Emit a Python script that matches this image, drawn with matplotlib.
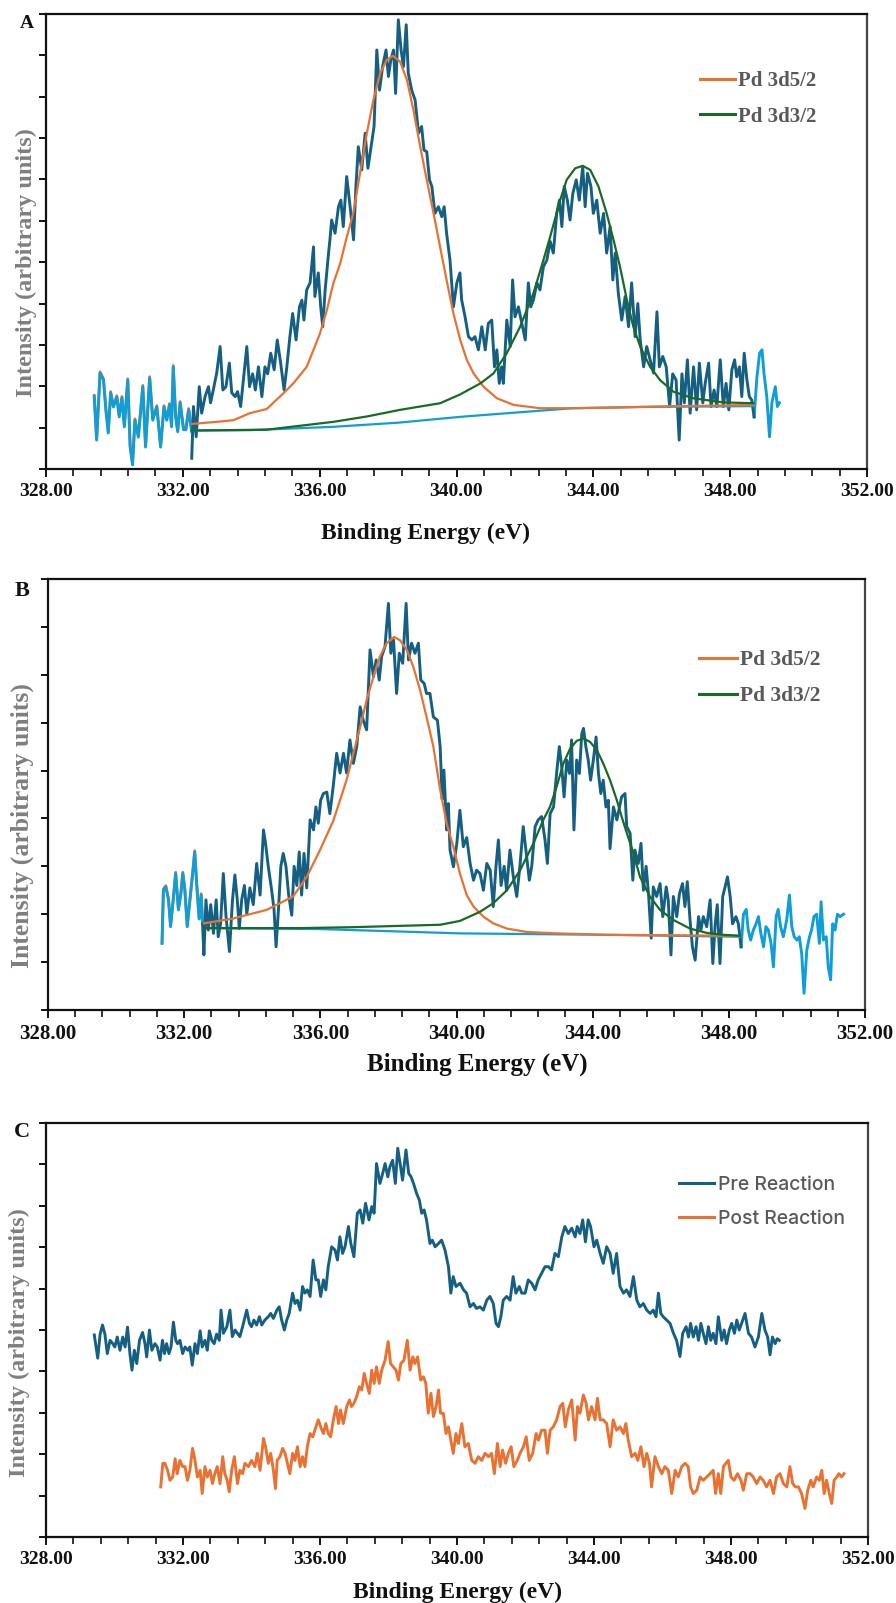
import matplotlib
matplotlib.use("Agg")
import matplotlib.pyplot as plt
from matplotlib.ticker import MultipleLocator, FormatStrFormatter, NullFormatter
from matplotlib.lines import Line2D
import matplotlib.transforms as mtransforms

plt.rcParams['font.family'] = ['Liberation Serif', 'DejaVu Serif']

# ---------------- data: panel A ----------------
A_LEFT_X = [329.41, 329.48, 329.58, 329.68, 329.75, 329.82, 329.89, 329.97, 330.07, 330.14,
            330.22, 330.29, 330.39, 330.46, 330.53, 330.60, 330.70, 330.83, 330.91, 331.03,
            331.12, 331.24, 331.35, 331.45, 331.53, 331.61, 331.67, 331.72, 331.79, 331.85,
            331.92, 332.02, 332.09, 332.17, 332.26]
A_LEFT_Y = [1.75, 0.70, 2.32, 2.15, 1.43, 0.87, 1.84, 1.50, 1.74, 1.26,
            1.72, 1.02, 2.15, 0.53, 0.10, 1.18, 0.77, 1.99, 0.53, 2.20,
            1.18, 1.50, 0.53, 1.50, 1.18, 1.55, 1.02, 2.47, 1.26, 0.90,
            1.60, 0.95, 0.95, 1.43, 0.90]

A_DATA_X = [332.26, 332.31, 332.39, 332.48, 332.55, 332.65, 332.75, 332.81, 332.89, 332.99,
            333.09, 333.17, 333.26, 333.36, 333.43, 333.53, 333.60, 333.69, 333.77, 333.87,
            333.95, 334.04, 334.12, 334.21, 334.31, 334.40, 334.48, 334.57, 334.67, 334.76,
            334.86, 334.96, 335.04, 335.13, 335.21, 335.31, 335.41, 335.48, 335.54, 335.62,
            335.72, 335.82, 335.86, 335.96, 336.03, 336.09, 336.16, 336.26, 336.30, 336.35,
            336.45, 336.55, 336.62, 336.69, 336.79, 336.89, 336.99, 337.06, 337.13, 337.23,
            337.33, 337.41, 337.52, 337.59, 337.67, 337.75, 337.84, 337.94, 338.01, 338.08,
            338.16, 338.22, 338.30, 338.38, 338.45, 338.53, 338.59, 338.69, 338.79, 338.89,
            338.98, 339.05, 339.13, 339.21, 339.28, 339.37, 339.47, 339.57, 339.64, 339.71,
            339.81, 339.91, 340.01, 340.10, 340.15, 340.25, 340.35, 340.45, 340.54, 340.64,
            340.74, 340.84, 340.93, 341.03, 341.11, 341.18, 341.25, 341.32, 341.37, 341.47,
            341.57, 341.64, 341.71, 341.81, 341.91, 342.01, 342.10, 342.17, 342.25, 342.35,
            342.44, 342.54, 342.64, 342.74, 342.83, 342.93, 343.01, 343.08, 343.15, 343.24,
            343.32, 343.40, 343.50, 343.59, 343.69, 343.76, 343.83, 343.93, 344.00, 344.10,
            344.20, 344.30, 344.39, 344.49, 344.57, 344.64, 344.73, 344.83, 344.93, 345.03,
            345.12, 345.22, 345.30, 345.37, 345.47, 345.56, 345.66, 345.76, 345.86, 345.93,
            346.03, 346.13, 346.23, 346.32, 346.42, 346.51, 346.59, 346.66, 346.75, 346.83,
            346.93, 347.02, 347.10, 347.20, 347.27, 347.37, 347.44, 347.53, 347.61, 347.71,
            347.80, 347.88, 347.96, 348.05, 348.13, 348.19, 348.27, 348.34, 348.41, 348.49,
            348.56, 348.63, 348.70]
A_DATA_Y = [0.26, 1.51, 0.78, 1.99, 1.35, 1.75, 1.99, 1.60, 1.91, 2.32,
            2.96, 1.91, 1.99, 2.56, 1.84, 1.75, 1.87, 1.51, 2.15, 2.96,
            1.99, 2.30, 1.91, 2.47, 1.75, 2.47, 2.30, 2.80, 2.40, 3.12,
            2.56, 1.91, 2.47, 3.20, 3.76, 3.12, 3.92, 4.08, 3.60, 4.33,
            4.50, 5.37, 4.17, 4.74, 3.92, 3.44, 4.33, 5.22, 5.54, 6.02,
            5.70, 6.34, 6.50, 5.86, 7.07, 6.34, 5.54, 6.83, 7.79, 7.23,
            8.12, 7.27, 7.88, 8.28, 10.13, 9.16, 9.73, 10.13, 9.49, 9.89,
            10.13, 9.08, 10.86, 10.13, 9.73, 10.74, 9.57, 9.16, 8.92, 8.12,
            8.28, 7.71, 7.67, 6.99, 6.83, 6.18, 6.34, 6.10, 6.34, 5.70,
            5.05, 3.92, 4.50, 4.74, 4.09, 3.68, 3.20, 3.12, 3.20, 2.88,
            3.44, 2.88, 3.52, 3.60, 2.47, 2.88, 2.07, 2.47, 2.07, 3.60,
            2.96, 4.57, 3.68, 3.92, 3.52, 3.12, 4.50, 3.92, 4.09, 4.50,
            4.33, 4.89, 5.05, 5.50, 5.22, 6.18, 6.50, 5.86, 6.83, 6.50,
            6.02, 6.66, 6.99, 6.50, 7.31, 6.34, 7.15, 6.83, 6.18, 6.50,
            5.70, 6.18, 5.22, 5.86, 4.57, 5.22, 4.25, 3.60, 4.17, 3.44,
            4.50, 3.20, 4.00, 3.12, 2.47, 2.96, 2.64, 2.32, 3.80, 2.47,
            2.72, 2.47, 1.51, 2.30, 2.15, 0.70, 2.30, 1.60, 2.64, 1.35,
            2.47, 1.43, 2.56, 1.60, 2.07, 2.56, 1.51, 1.91, 1.51, 2.64,
            1.51, 2.07, 1.43, 2.40, 2.64, 2.23, 2.47, 1.75, 2.80, 2.15,
            1.75, 1.67, 1.26]

A_RIGHT_X = [348.70, 348.78, 348.86, 348.93, 348.99, 349.07, 349.15, 349.22, 349.32, 349.38, 349.44]
A_RIGHT_Y = [1.26, 2.20, 2.80, 2.88, 2.30, 1.75, 0.78, 1.60, 1.99, 1.51, 1.60]

A_D52_X = [332.26, 332.99, 333.48, 333.96, 334.45, 334.94, 335.23, 335.62, 335.82, 336.01,
           336.21, 336.40, 336.60, 336.79, 336.98, 337.18, 337.38, 337.57, 337.77, 337.96,
           338.14, 338.35, 338.55, 338.74, 338.94, 339.13, 339.33, 339.52, 339.71, 339.91,
           340.11, 340.30, 340.50, 340.79, 341.18, 341.67, 342.44, 343.42, 344.39, 345.37,
           346.34, 347.32, 348.68]
A_D52_Y = [1.09, 1.14, 1.18, 1.35, 1.45, 1.83, 2.07, 2.47, 2.88, 3.28,
           3.84, 4.49, 4.97, 5.60, 6.18, 7.15, 8.12, 8.92, 9.57, 9.89,
           9.99, 9.85, 9.41, 8.68, 7.79, 6.99, 6.18, 5.37, 4.57, 3.76,
           3.12, 2.64, 2.31, 1.99, 1.71, 1.55, 1.47, 1.47, 1.48, 1.50,
           1.52, 1.53, 1.55]

A_D32_X = [332.26, 334.45, 336.40, 337.38, 338.35, 339.52, 340.10, 340.70, 341.08, 341.47,
           341.86, 342.25, 342.54, 342.74, 343.03, 343.22, 343.47, 343.69, 343.91, 344.15,
           344.39, 344.59, 344.78, 344.98, 345.17, 345.37, 345.66, 345.95, 346.34, 346.92,
           347.80, 348.68]
A_D32_Y = [0.93, 0.95, 1.14, 1.27, 1.43, 1.59, 1.80, 2.07, 2.31, 2.80,
           3.44, 4.25, 5.05, 5.62, 6.50, 6.99, 7.27, 7.33, 7.23, 6.83,
           6.18, 5.54, 4.89, 4.09, 3.44, 2.96, 2.47, 2.15, 1.87, 1.71,
           1.61, 1.59]

A_BG_X = [332.26, 334.0, 336.4, 338.3, 340.1, 341.5, 343.4, 345.4, 348.68]
A_BG_Y = [0.93, 0.94, 1.02, 1.12, 1.26, 1.35, 1.47, 1.50, 1.52]

# ---------------- data: panel B ----------------
B_LEFT_X = [331.35, 331.39, 331.46, 331.54, 331.60, 331.68, 331.75, 331.83, 331.90, 331.96,
            332.02, 332.09, 332.17, 332.25, 332.31, 332.37, 332.44, 332.50, 332.54]
B_LEFT_Y = [1.39, 2.50, 2.57, 2.30, 1.74, 2.30, 2.85, 2.09, 2.40, 2.85,
            2.50, 1.74, 2.30, 2.85, 3.30, 2.60, 1.90, 2.40, 1.80]

B_DATA_X = [332.54, 332.58, 332.64, 332.71, 332.78, 332.86, 332.94, 333.00, 333.07, 333.15,
            333.23, 333.33, 333.42, 333.49, 333.56, 333.62, 333.69, 333.77, 333.84, 333.93,
            334.03, 334.13, 334.23, 334.33, 334.39, 334.47, 334.57, 334.64, 334.70, 334.77,
            334.84, 334.91, 334.99, 335.07, 335.16, 335.23, 335.31, 335.38, 335.45, 335.52,
            335.60, 335.70, 335.80, 335.87, 335.94, 336.01, 336.09, 336.19, 336.28, 336.38,
            336.48, 336.58, 336.68, 336.77, 336.87, 336.97, 337.07, 337.17, 337.26, 337.36,
            337.46, 337.56, 337.64, 337.73, 337.80, 337.90, 338.00, 338.07, 338.15, 338.24,
            338.32, 338.42, 338.52, 338.59, 338.68, 338.78, 338.88, 338.95, 339.05, 339.12,
            339.22, 339.32, 339.44, 339.52, 339.58, 339.63, 339.71, 339.76, 339.81, 339.91,
            340.01, 340.10, 340.20, 340.30, 340.40, 340.50, 340.59, 340.69, 340.79, 340.89,
            340.99, 341.08, 341.16, 341.23, 341.31, 341.40, 341.47, 341.57, 341.67, 341.77,
            341.87, 341.96, 342.04, 342.14, 342.21, 342.31, 342.40, 342.50, 342.60, 342.67,
            342.75, 342.85, 342.94, 343.02, 343.09, 343.16, 343.24, 343.32, 343.38, 343.45,
            343.53, 343.61, 343.68, 343.73, 343.80, 343.87, 343.94, 344.02, 344.10, 344.17,
            344.24, 344.31, 344.39, 344.46, 344.51, 344.61, 344.71, 344.85, 344.95, 345.00,
            345.10, 345.18, 345.24, 345.34, 345.42, 345.49, 345.57, 345.64, 345.72, 345.78,
            345.88, 345.98, 346.06, 346.16, 346.22, 346.30, 346.37, 346.47, 346.55, 346.64,
            346.71, 346.78, 346.86, 346.93, 347.01, 347.11, 347.18, 347.25, 347.35, 347.45,
            347.53, 347.60, 347.66, 347.74, 347.82, 347.89, 347.96, 348.04, 348.11, 348.21,
            348.28, 348.36]
B_DATA_Y = [1.80, 1.15, 2.30, 1.67, 2.20, 1.60, 2.30, 1.53, 1.80, 2.85,
            1.95, 1.22, 2.30, 2.82, 2.30, 1.70, 2.30, 2.60, 2.00, 2.55,
            2.20, 3.06, 2.40, 3.76, 3.48, 3.00, 2.50, 2.10, 1.32, 2.10,
            3.00, 3.27, 3.00, 2.40, 1.98, 3.00, 2.60, 3.30, 2.40, 3.27,
            2.55, 3.97, 3.76, 4.24, 3.90, 4.38, 4.52, 4.55, 4.10, 4.68,
            5.36, 4.95, 5.36, 4.95, 5.64, 5.15, 5.50, 6.33, 6.05, 5.85,
            7.52, 6.96, 7.31, 6.89, 7.38, 7.59, 8.49, 7.45, 7.73, 6.61,
            7.45, 7.24, 8.49, 7.31, 7.66, 7.45, 7.66, 6.89, 6.82, 6.61,
            6.61, 6.12, 6.05, 5.50, 4.40, 5.01, 3.76, 4.31, 3.34, 2.99,
            3.48, 4.17, 3.41, 3.60, 3.06, 2.71, 2.92, 2.85, 2.50, 3.06,
            2.92, 2.16, 3.00, 3.55, 2.60, 3.00, 2.50, 3.34, 2.78, 2.37,
            3.06, 3.83, 3.34, 2.71, 3.00, 3.83, 3.97, 4.04, 3.55, 3.06,
            4.10, 4.24, 4.94, 5.50, 5.08, 4.45, 5.22, 4.94, 5.64, 3.76,
            5.22, 4.94, 5.77, 5.88, 5.50, 5.22, 4.80, 5.22, 5.70, 4.94,
            4.52, 4.80, 4.24, 4.38, 3.37, 4.24, 3.97, 4.45, 4.52, 3.83,
            3.69, 2.71, 3.34, 3.06, 3.48, 2.50, 3.00, 2.43, 1.50, 2.57,
            2.37, 2.64, 1.95, 2.57, 2.30, 1.15, 2.37, 1.95, 2.43, 2.64,
            2.16, 2.68, 1.88, 1.32, 1.04, 1.95, 1.67, 1.95, 1.74, 2.30,
            0.97, 1.80, 2.20, 0.97, 2.37, 2.57, 2.78, 2.37, 1.80, 1.95,
            1.80, 1.32]

B_RIGHT_X = [348.36, 348.43, 348.51, 348.57, 348.64, 348.72, 348.80, 348.87, 348.94, 349.02,
             349.09, 349.16, 349.24, 349.31, 349.39, 349.45, 349.52, 349.60, 349.70, 349.78,
             349.85, 349.92, 350.00, 350.07, 350.14, 350.21, 350.29, 350.37, 350.43, 350.50,
             350.58, 350.66, 350.71, 350.78, 350.86, 350.92, 350.99, 351.05, 351.12, 351.19,
             351.27, 351.37]
B_RIGHT_Y = [1.32, 2.00, 2.10, 1.67, 1.46, 1.67, 1.80, 1.95, 1.60, 1.32,
             1.74, 1.67, 1.39, 0.90, 1.95, 2.10, 1.74, 1.53, 1.88, 2.40,
             1.74, 1.53, 1.46, 1.53, 1.18, 0.35, 1.25, 1.53, 1.67, 1.95,
             2.00, 1.39, 2.26, 1.46, 1.53, 0.90, 0.63, 1.80, 1.67, 2.00,
             1.95, 2.00]

B_D52_X = [332.58, 333.44, 334.42, 335.20, 335.60, 335.99, 336.38, 336.77, 336.97, 337.17,
           337.36, 337.56, 337.75, 337.95, 338.17, 338.34, 338.54, 338.73, 338.93, 339.12,
           339.32, 339.52, 339.71, 339.91, 340.10, 340.30, 340.50, 340.79, 341.08, 341.48,
           342.06, 342.95, 344.41, 346.37, 348.33]
B_D52_Y = [1.81, 1.91, 2.09, 2.37, 2.78, 3.34, 3.95, 4.80, 5.36, 5.91,
           6.47, 6.96, 7.38, 7.66, 7.79, 7.72, 7.52, 7.17, 6.68, 6.12,
           5.50, 4.60, 3.90, 3.40, 2.85, 2.40, 2.16, 1.95, 1.81, 1.70,
           1.63, 1.60, 1.57, 1.56, 1.55]

B_D32_X = [332.58, 335.40, 337.00, 338.50, 339.52, 340.10, 340.69, 341.08, 341.48, 341.87,
           342.26, 342.55, 342.75, 342.94, 343.14, 343.34, 343.53, 343.73, 343.92, 344.12,
           344.31, 344.51, 344.71, 344.85, 345.00, 345.20, 345.39, 345.68, 345.98, 346.37,
           346.86, 347.35, 347.84, 348.33]
B_D32_Y = [1.71, 1.71, 1.73, 1.76, 1.78, 1.86, 2.05, 2.23, 2.50, 2.92,
           3.48, 3.97, 4.25, 4.66, 5.15, 5.46, 5.62, 5.67, 5.60, 5.43,
           5.15, 4.80, 4.38, 4.04, 3.70, 3.27, 2.78, 2.37, 2.09, 1.88,
           1.70, 1.61, 1.57, 1.55]

B_BG_X = [332.58, 336.0, 340.1, 344.4, 348.33]
B_BG_Y = [1.71, 1.69, 1.60, 1.57, 1.53]

# ---------------- data: panel C ----------------
C_PRE_X = [329.41, 329.51, 329.58, 329.65, 329.72, 329.79, 329.87, 329.95, 330.01, 330.08,
           330.16, 330.24, 330.31, 330.38, 330.45, 330.51, 330.58, 330.65, 330.73, 330.82,
           330.89, 330.94, 331.02, 331.09, 331.18, 331.25, 331.33, 331.40, 331.46, 331.52,
           331.59, 331.65, 331.72, 331.79, 331.84, 331.91, 331.99, 332.06, 332.14, 332.20,
           332.27, 332.35, 332.42, 332.50, 332.56, 332.64, 332.71, 332.77, 332.84, 332.91,
           332.98, 333.06, 333.11, 333.18, 333.28, 333.37, 333.44, 333.52, 333.59, 333.66,
           333.74, 333.86, 333.94, 334.00, 334.07, 334.15, 334.23, 334.30, 334.39, 334.49,
           334.56, 334.64, 334.74, 334.81, 334.88, 334.96, 335.03, 335.10, 335.20, 335.27,
           335.34, 335.42, 335.49, 335.56, 335.63, 335.71, 335.80, 335.88, 335.95, 336.02,
           336.10, 336.17, 336.24, 336.34, 336.44, 336.51, 336.58, 336.66, 336.73, 336.83,
           336.90, 336.99, 337.09, 337.17, 337.25, 337.33, 337.43, 337.51, 337.58, 337.65,
           337.75, 337.83, 337.90, 337.98, 338.04, 338.12, 338.20, 338.27, 338.34, 338.41,
           338.51, 338.59, 338.66, 338.73, 338.82, 338.90, 338.97, 339.04, 339.11, 339.21,
           339.28, 339.36, 339.46, 339.55, 339.65, 339.75, 339.82, 339.89, 339.97, 340.09,
           340.19, 340.28, 340.38, 340.48, 340.57, 340.67, 340.77, 340.87, 340.96, 341.06,
           341.14, 341.21, 341.28, 341.35, 341.45, 341.55, 341.64, 341.72, 341.82, 341.89,
           341.99, 342.08, 342.18, 342.28, 342.37, 342.47, 342.57, 342.67, 342.76, 342.86,
           342.96, 343.06, 343.15, 343.25, 343.35, 343.45, 343.51, 343.59, 343.67, 343.75,
           343.83, 343.90, 344.00, 344.08, 344.18, 344.27, 344.37, 344.47, 344.56, 344.66,
           344.76, 344.86, 344.95, 345.05, 345.15, 345.25, 345.34, 345.44, 345.54, 345.64,
           345.73, 345.81, 345.88, 345.95, 346.02, 346.12, 346.22, 346.32, 346.41, 346.51,
           346.59, 346.69, 346.76, 346.82, 346.90, 346.98, 347.05, 347.12, 347.19, 347.27,
           347.34, 347.41, 347.48, 347.56, 347.63, 347.73, 347.80, 347.87, 347.95, 348.02,
           348.10, 348.17, 348.24, 348.31, 348.41, 348.51, 348.60, 348.70, 348.80, 348.90,
           348.99, 349.07, 349.14, 349.21, 349.29, 349.35, 349.41]
C_PRE_Y = [4.88, 4.32, 4.90, 5.12, 4.90, 4.43, 4.75, 4.67, 4.59, 4.83,
           4.51, 4.83, 4.59, 5.07, 4.43, 4.03, 4.51, 4.19, 4.75, 4.94,
           4.67, 4.35, 5.00, 4.51, 4.67, 4.59, 4.27, 4.75, 4.43, 4.67,
           4.43, 4.59, 5.19, 4.75, 4.67, 4.75, 4.43, 4.59, 4.51, 4.59,
           4.15, 4.67, 4.43, 4.98, 4.59, 4.75, 4.51, 4.98, 4.75, 4.67,
           4.90, 4.75, 5.48, 4.92, 5.08, 5.48, 4.84, 5.00, 4.92, 4.84,
           5.08, 5.48, 5.16, 5.08, 5.24, 5.12, 5.32, 5.12, 5.24, 5.32,
           5.40, 5.28, 5.48, 5.56, 5.24, 5.00, 5.24, 5.40, 5.89, 5.64,
           5.72, 5.48, 6.05, 5.89, 5.97, 5.81, 6.69, 6.21, 6.21, 5.81,
           6.21, 5.97, 6.53, 7.01, 6.93, 6.69, 7.25, 6.85, 7.01, 7.50,
           7.09, 6.77, 7.82, 7.90, 7.58, 8.06, 7.66, 7.98, 7.82, 9.02,
           8.54, 8.78, 9.02, 8.70, 8.94, 9.10, 8.54, 9.39, 9.02, 8.62,
           9.35, 8.78, 8.70, 8.54, 8.30, 8.14, 7.82, 7.90, 7.66, 7.09,
           7.17, 7.01, 7.09, 7.17, 6.93, 6.53, 5.89, 6.29, 6.05, 6.13,
           5.97, 5.89, 5.56, 5.64, 5.52, 5.56, 5.48, 5.72, 5.81, 5.64,
           5.16, 5.08, 5.32, 5.72, 5.81, 5.72, 6.29, 5.89, 6.05, 5.89,
           5.89, 6.21, 6.13, 5.97, 6.21, 6.37, 6.53, 6.53, 6.45, 6.85,
           6.77, 7.25, 7.50, 7.33, 7.46, 7.25, 7.50, 7.33, 7.66, 7.13,
           7.66, 7.50, 7.01, 7.17, 6.85, 6.61, 7.01, 6.85, 6.37, 6.85,
           6.05, 5.89, 5.97, 5.81, 6.29, 5.72, 5.56, 5.64, 5.48, 5.40,
           5.48, 5.32, 5.89, 5.40, 5.32, 5.24, 5.16, 4.92, 4.75, 4.36,
           4.92, 5.08, 4.83, 5.16, 4.83, 5.08, 4.75, 5.16, 4.92, 4.67,
           5.08, 4.75, 4.92, 4.67, 5.32, 4.75, 5.00, 4.67, 5.00, 5.16,
           4.92, 5.24, 5.00, 5.16, 5.40, 4.92, 4.83, 4.59, 4.83, 5.40,
           5.00, 4.83, 4.40, 4.83, 4.67, 4.79, 4.75]

C_POST_X = [331.35, 331.41, 331.47, 331.55, 331.62, 331.70, 331.77, 331.83, 331.91, 331.99,
            332.06, 332.13, 332.20, 332.28, 332.35, 332.42, 332.50, 332.56, 332.64, 332.71,
            332.79, 332.86, 332.93, 333.00, 333.08, 333.16, 333.22, 333.29, 333.35, 333.42,
            333.50, 333.59, 333.66, 333.74, 333.81, 333.91, 334.00, 334.10, 334.17, 334.25,
            334.35, 334.41, 334.49, 334.56, 334.64, 334.70, 334.75, 334.83, 334.91, 334.98,
            335.05, 335.12, 335.20, 335.27, 335.34, 335.42, 335.49, 335.56, 335.63, 335.71,
            335.79, 335.85, 335.95, 336.02, 336.10, 336.17, 336.24, 336.31, 336.39, 336.47,
            336.54, 336.60, 336.68, 336.78, 336.86, 336.92, 336.99, 337.07, 337.15, 337.22,
            337.29, 337.36, 337.44, 337.51, 337.58, 337.65, 337.73, 337.80, 337.90, 337.99,
            338.06, 338.14, 338.22, 338.29, 338.36, 338.45, 338.55, 338.63, 338.71, 338.77,
            338.85, 338.94, 339.02, 339.09, 339.16, 339.24, 339.31, 339.39, 339.46, 339.52,
            339.60, 339.68, 339.75, 339.82, 339.89, 339.97, 340.04, 340.14, 340.23, 340.33,
            340.43, 340.53, 340.62, 340.72, 340.82, 340.92, 341.01, 341.09, 341.18, 341.26,
            341.33, 341.42, 341.50, 341.58, 341.66, 341.76, 341.84, 341.94, 342.02, 342.11,
            342.21, 342.31, 342.38, 342.47, 342.57, 342.64, 342.72, 342.81, 342.91, 343.01,
            343.09, 343.16, 343.25, 343.35, 343.45, 343.52, 343.59, 343.69, 343.77, 343.84,
            343.93, 344.03, 344.10, 344.18, 344.27, 344.37, 344.47, 344.56, 344.66, 344.76,
            344.86, 344.93, 345.00, 345.10, 345.20, 345.28, 345.37, 345.46, 345.54, 345.62,
            345.68, 345.78, 345.88, 345.98, 346.07, 346.17, 346.27, 346.37, 346.46, 346.56,
            346.66, 346.75, 346.82, 346.90, 347.00, 347.10, 347.19, 347.29, 347.39, 347.48,
            347.55, 347.63, 347.70, 347.78, 347.85, 347.92, 348.00, 348.09, 348.19, 348.29,
            348.36, 348.46, 348.56, 348.65, 348.75, 348.85, 348.94, 349.04, 349.14, 349.24,
            349.33, 349.43, 349.53, 349.63, 349.72, 349.80, 349.88, 349.97, 350.06, 350.16,
            350.24, 350.33, 350.40, 350.50, 350.58, 350.65, 350.72, 350.79, 350.87, 350.94,
            351.01, 351.09, 351.15, 351.23, 351.30]
C_POST_Y = [1.21, 1.78, 1.78, 1.61, 1.37, 1.45, 1.89, 1.53, 1.85, 1.70,
            1.70, 1.37, 1.61, 2.14, 1.85, 1.45, 1.61, 1.05, 1.70, 1.45,
            1.61, 1.29, 1.53, 1.70, 1.29, 1.94, 1.53, 1.37, 1.09, 1.61,
            1.94, 1.29, 1.61, 1.53, 1.78, 1.70, 1.85, 1.70, 2.02, 1.61,
            2.38, 2.18, 1.78, 2.02, 1.61, 1.17, 1.85, 1.94, 2.14, 2.02,
            1.78, 1.53, 2.02, 1.85, 2.18, 1.70, 1.94, 1.70, 2.18, 2.50,
            2.42, 2.58, 2.83, 2.66, 2.50, 2.74, 2.50, 2.42, 2.83, 3.15,
            2.74, 3.07, 2.74, 3.15, 3.31, 3.15, 3.23, 3.39, 3.63, 3.55,
            3.95, 3.71, 3.47, 4.03, 3.71, 4.11, 3.71, 4.03, 4.27, 4.72,
            4.19, 4.11, 4.03, 3.79, 4.19, 4.27, 4.75, 4.03, 4.35, 4.19,
            4.35, 3.79, 3.87, 3.71, 2.99, 3.47, 2.91, 3.15, 3.55, 2.99,
            2.99, 2.50, 2.66, 2.34, 2.02, 2.50, 2.26, 2.74, 2.18, 2.26,
            1.85, 1.78, 1.94, 1.85, 2.02, 1.94, 2.02, 1.53, 2.26, 1.70,
            2.10, 1.78, 2.02, 2.18, 1.70, 1.85, 2.02, 2.18, 2.42, 1.85,
            2.02, 2.50, 2.34, 2.58, 2.58, 2.02, 2.58, 2.66, 2.83, 3.15,
            3.23, 2.66, 3.07, 3.31, 2.34, 3.15, 2.99, 3.43, 3.23, 2.83,
            3.15, 2.83, 3.35, 2.83, 2.83, 2.74, 2.18, 2.83, 2.58, 2.66,
            2.50, 2.74, 2.34, 1.94, 2.02, 1.85, 2.18, 1.70, 2.02, 1.78,
            1.21, 1.94, 1.70, 1.53, 1.70, 1.61, 1.05, 1.61, 1.45, 1.70,
            1.78, 1.70, 1.21, 1.05, 1.13, 1.45, 1.37, 1.45, 1.53, 1.61,
            1.05, 1.53, 1.05, 1.70, 1.78, 1.85, 1.45, 1.37, 1.53, 1.37,
            1.13, 1.53, 1.53, 1.45, 1.29, 1.45, 1.37, 1.21, 1.37, 1.05,
            1.45, 1.53, 1.29, 1.21, 1.70, 1.29, 1.21, 1.21, 1.05, 0.69,
            1.13, 1.37, 1.21, 1.45, 1.37, 1.61, 1.05, 1.37, 1.05, 0.81,
            1.37, 1.45, 1.53, 1.45, 1.53]

X_TICKS = [328, 332, 336, 340, 344, 348, 352]
LEG_AB = ["Pd 3d5/2", "Pd 3d3/2"]
LEG_C = ["Pre Reaction", "Post Reaction"]
X_LABEL = "Binding Energy (eV)"
Y_LABEL = "Intensity (arbitrary units)"

# ---------------- styling ----------------
DARK = "#156082"
ORANGE = "#E97132"
GREEN = "#196B24"
LIGHT = "#0F9ED5"
LEG_GREY = "#595959"
YLAB_GREY = "#7F7F7F"
SERIF = ["Liberation Serif", "DejaVu Serif"]
SANS = ["Inter", "Open Sans", "DejaVu Sans"]

W, H = 896, 1603
fig = plt.figure(figsize=(W / 100, H / 100), dpi=100)


def axes_px(left, top, right, bottom):
    return fig.add_axes([left / W, 1 - bottom / H, (right - left) / W, (bottom - top) / H])


def style(ax, ymax, tick_fs):
    ax.set_xlim(X_TICKS[0], X_TICKS[-1])
    ax.set_ylim(0, ymax)
    ax.set_xticks(X_TICKS)
    ax.xaxis.set_minor_locator(MultipleLocator(0.8))
    ax.xaxis.set_major_formatter(FormatStrFormatter("%.2f"))
    ax.yaxis.set_major_locator(MultipleLocator(1))
    ax.yaxis.set_major_formatter(NullFormatter())
    ax.tick_params(axis="x", which="major", direction="out", length=6, width=1.4,
                   labelsize=tick_fs, pad=4, colors="#111111")
    ax.tick_params(axis="x", which="minor", direction="out", length=5, width=1.2, colors="#111111")
    ax.tick_params(axis="y", which="major", direction="out", length=5, width=1.4, colors="#111111")
    for lab in ax.get_xticklabels():
        lab.set_fontfamily(SERIF)
        lab.set_fontweight("bold")
    for side, sp in ax.spines.items():
        sp.set_linewidth(1.6)
        sp.set_color("#111111" if side in ("left", "bottom", "top") else "#444444")


def underlay(ax, x, y):
    off = mtransforms.ScaledTranslation(0, 1.3 / 100, fig.dpi_scale_trans)
    ax.plot(x, y, color=ORANGE, lw=2.0, transform=ax.transData + off, solid_joinstyle="round")


LW_DATA = 2.1
LW_FIT = 1.6

# ---- Panel A ----
axA = axes_px(46, 14, 867, 469)
style(axA, 11, 14)
underlay(axA, A_LEFT_X, A_LEFT_Y)
axA.plot(A_LEFT_X, A_LEFT_Y, color=LIGHT, lw=LW_DATA)
axA.plot(A_RIGHT_X, A_RIGHT_Y, color=LIGHT, lw=LW_DATA)
axA.plot(A_DATA_X, A_DATA_Y, color=DARK, lw=LW_DATA)
axA.plot(A_BG_X, A_BG_Y, color=LIGHT, lw=LW_FIT)
axA.plot(A_D52_X, A_D52_Y, color=ORANGE, lw=LW_FIT)
axA.plot(A_D32_X, A_D32_Y, color=GREEN, lw=LW_FIT)

# ---- Panel B ----
axB = axes_px(48, 579, 865, 1010)
style(axB, 9, 15)
underlay(axB, B_LEFT_X, B_LEFT_Y)
axB.plot(B_LEFT_X, B_LEFT_Y, color=LIGHT, lw=LW_DATA)
axB.plot(B_RIGHT_X, B_RIGHT_Y, color=LIGHT, lw=LW_DATA)
axB.plot(B_DATA_X, B_DATA_Y, color=DARK, lw=LW_DATA)
axB.plot(B_BG_X, B_BG_Y, color=LIGHT, lw=LW_FIT)
axB.plot(B_D52_X, B_D52_Y, color=ORANGE, lw=LW_FIT)
axB.plot(B_D32_X, B_D32_Y, color=GREEN, lw=LW_FIT)

# ---- Panel C ----
axC = axes_px(46, 1123, 868, 1537)
style(axC, 10, 14)
axC.plot(C_PRE_X, C_PRE_Y, color=DARK, lw=LW_DATA)
axC.plot(C_POST_X, C_POST_Y, color=ORANGE, lw=LW_DATA)

# ---- legends ----
def make_legend(ax, labels, colors, anchor, fs, family, weight, hl, hp, ls):
    handles = [Line2D([], [], color=c, lw=2.2) for c in colors]
    leg = ax.legend(handles, labels, loc="upper left", bbox_to_anchor=anchor, frameon=False,
                    borderpad=0, borderaxespad=0, handlelength=hl, handletextpad=hp,
                    labelspacing=ls, prop={"family": family, "weight": weight, "size": fs},
                    labelcolor=LEG_GREY)
    return leg

make_legend(axA, LEG_AB, [ORANGE, GREEN], (0.7966, 0.875), 15, SERIF, "bold", 1.68, 0.15, 0.76)
make_legend(axB, LEG_AB, [ORANGE, GREEN], (0.797, 0.835), 15.5, SERIF, "bold", 1.77, 0.15, 0.75)
make_legend(axC, LEG_C, [DARK, ORANGE], (0.770, 0.872), 14, SANS, "medium", 1.8, 0.2, 0.83)

# ---- axis titles and panel letters ----
def ftext(xp, yp, s, **kw):
    fig.text(xp / W, 1 - yp / H, s, **kw)

ftext(425, 539, X_LABEL, ha="center", va="baseline", fontsize=17, fontweight="bold", family=SERIF, color="#111111")
ftext(477, 1071, X_LABEL, ha="center", va="baseline", fontsize=18, fontweight="bold", family=SERIF, color="#111111")
ftext(457, 1598, X_LABEL, ha="center", va="baseline", fontsize=17, fontweight="bold", family=SERIF, color="#111111")

ftext(26, 263, Y_LABEL, ha="center", va="center", rotation=90, fontsize=17.5, fontweight="bold", family=SERIF, color=YLAB_GREY)
ftext(22, 826, Y_LABEL, ha="center", va="center", rotation=90, fontsize=18.5, fontweight="bold", family=SERIF, color=YLAB_GREY)
ftext(19, 1343, Y_LABEL, ha="center", va="center", rotation=90, fontsize=17.5, fontweight="bold", family=SERIF, color=YLAB_GREY)

ftext(27, 23, "A", ha="center", va="center", fontsize=14, fontweight="bold", family=SERIF, color="#111111")
ftext(22, 591, "B", ha="center", va="center", fontsize=16, fontweight="bold", family=SERIF, color="#111111")
ftext(22, 1132, "C", ha="center", va="center", fontsize=16, fontweight="bold", family=SERIF, color="#111111")

fig.savefig("out.png", dpi=100)
